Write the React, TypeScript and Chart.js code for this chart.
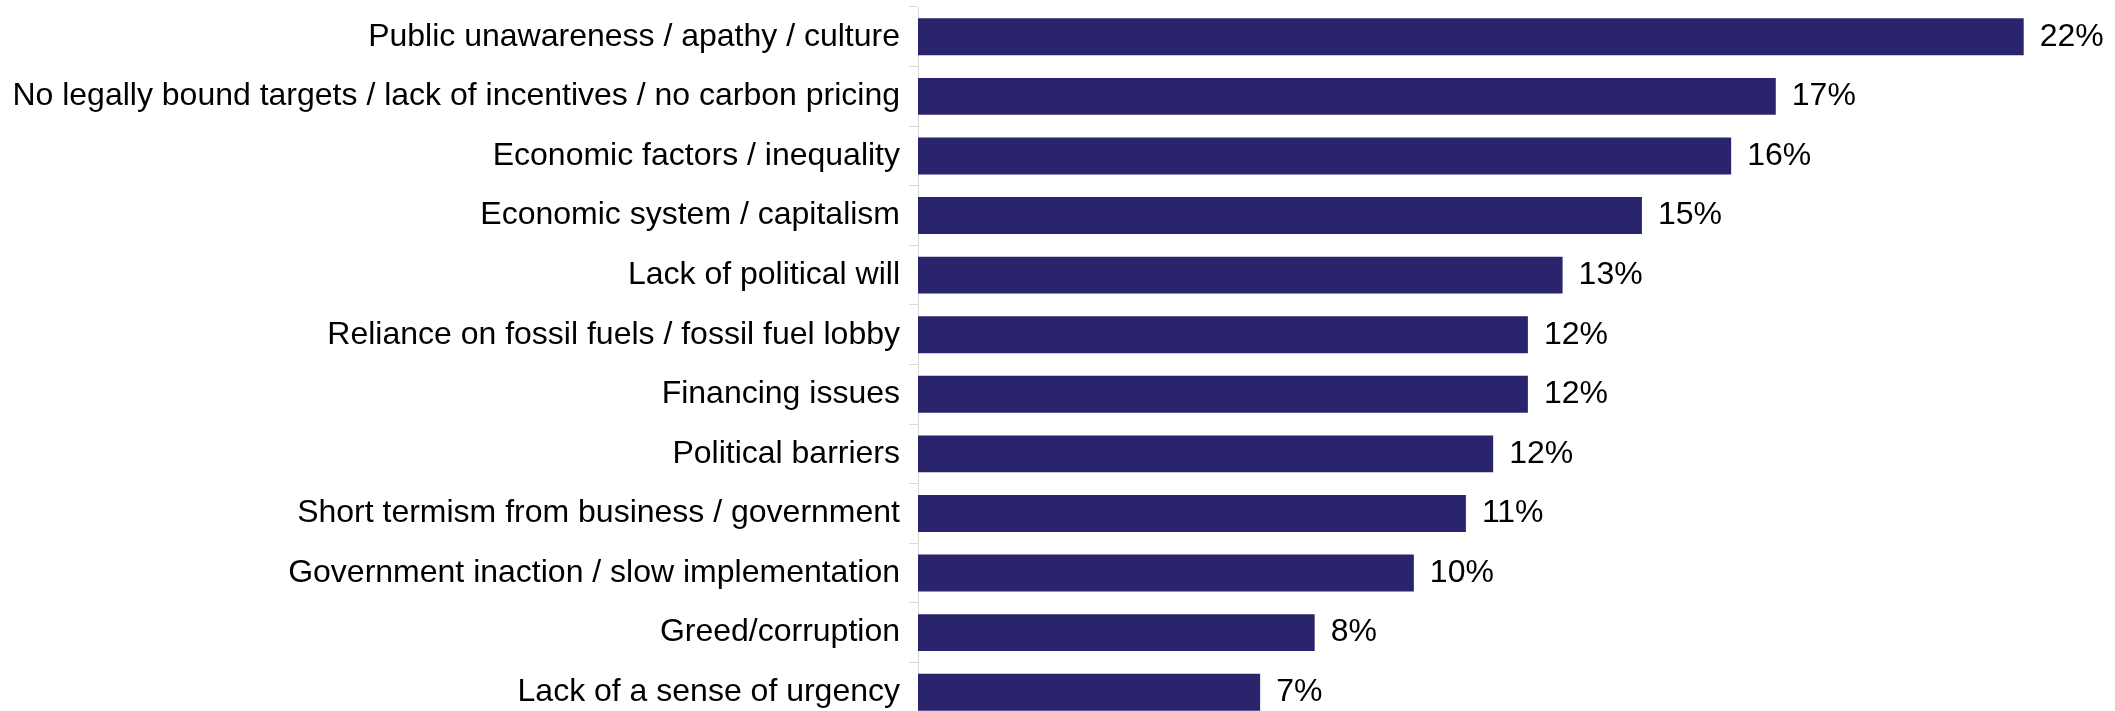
import React, { useEffect, useRef } from "react";
import { Chart, registerables } from "chart.js";

Chart.register(...registerables);

const categories: string[] = [
  "Public unawareness / apathy / culture",
  "No legally bound targets / lack of incentives / no carbon pricing",
  "Economic factors / inequality",
  "Economic system / capitalism",
  "Lack of political will",
  "Reliance on fossil fuels / fossil fuel lobby",
  "Financing issues",
  "Political barriers",
  "Short termism from business / government",
  "Government inaction / slow implementation",
  "Greed/corruption",
  "Lack of a sense of urgency",
];

const values: number[] = [22.3, 17.3, 16.4, 14.6, 13.0, 12.3, 12.3, 11.6, 11.05, 10.0, 8.0, 6.9];

const BAR_COLOR = "#2a246c";
const FONT = "'Liberation Sans', Arial, sans-serif";

const valueLabels = {
  id: "valueLabels",
  afterDatasetsDraw(chart: any) {
    const ctx = chart.ctx;
    const meta = chart.getDatasetMeta(0);
    ctx.save();
    ctx.font = `32px ${FONT}`;
    ctx.fillStyle = "#000000";
    ctx.textAlign = "left";
    ctx.textBaseline = "middle";
    meta.data.forEach((bar: any, i: number) => {
      ctx.fillText(`${Math.round(values[i])}%`, bar.x + 16, bar.y);
    });
    ctx.restore();
  },
};

export default function App() {
  const ref = useRef<HTMLCanvasElement | null>(null);

  useEffect(() => {
    if (!ref.current) return;
    const chart = new Chart(ref.current, {
      type: "bar",
      data: {
        labels: categories,
        datasets: [
          {
            data: values,
            backgroundColor: BAR_COLOR,
            borderWidth: 0,
            categoryPercentage: 1,
            barPercentage: 0.62,
          },
        ],
      },
      options: {
        indexAxis: "y",
        animation: false,
        responsive: false,
        devicePixelRatio: 1,
        layout: { padding: { top: 7, bottom: 0, left: 0, right: 7 } },
        plugins: {
          legend: { display: false },
          tooltip: { enabled: false },
        },
        scales: {
          x: {
            display: false,
            min: 0,
            max: 24,
          },
          y: {
            afterFit: (scale: any) => {
              scale.width = 918;
              scale.paddingTop = 0;
              scale.paddingBottom = 0;
            },
            grid: {
              offset: true,
              drawOnChartArea: false,
              drawTicks: true,
              tickLength: 9,
              color: "#d9d9d9",
            },
            border: { display: true, color: "#d9d9d9", width: 1 },
            ticks: {
              padding: 9,
              color: "#000000",
              font: { family: FONT, size: 32 },
              autoSkip: false,
            },
          },
        },
      },
      plugins: [valueLabels],
    });
    return () => chart.destroy();
  }, []);

  return (
    <div style={{ position: "absolute", left: 0, top: 0, width: 2115, height: 711, overflow: "hidden", background: "#fff" }}>
      <canvas ref={ref} width={2115} height={722} style={{ display: "block" }} />
    </div>
  );
}
